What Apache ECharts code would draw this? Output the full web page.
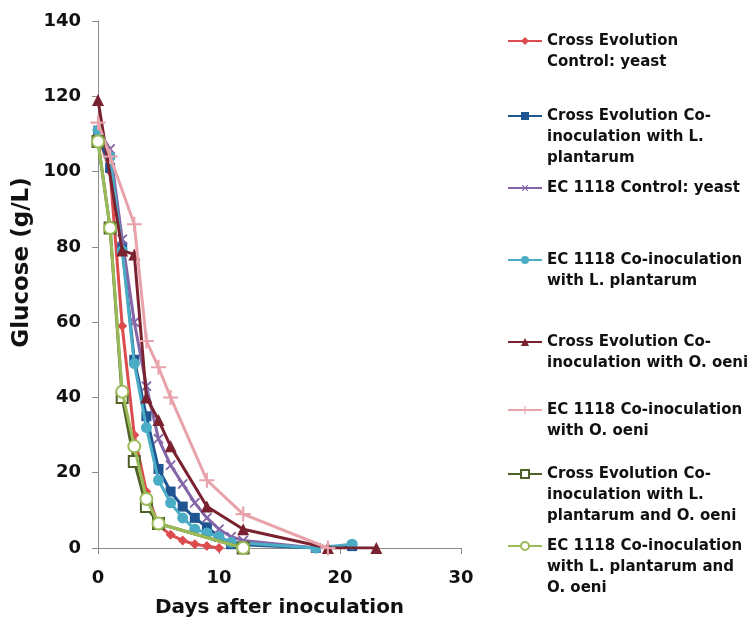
<!DOCTYPE html>
<html>
<head>
<meta charset="utf-8">
<script src="https://cdn.jsdelivr.net/npm/echarts@6/dist/echarts.min.js"></script>
<style>
html, body { margin: 0; padding: 0; background: #ffffff; }
#chart { width: 755px; height: 624px; }
</style>
</head>
<body>
<div id="chart"></div>
<script>
// Glucose consumption (g/L) over days after inoculation, eight fermentation treatments.
const seriesNames = [
  'Cross Evolution Control: yeast',
  'Cross Evolution Co-inoculation with L. plantarum',
  'EC 1118 Control: yeast',
  'EC 1118 Co-inoculation with L. plantarum',
  'Cross Evolution Co-inoculation with O. oeni',
  'EC 1118 Co-inoculation with O. oeni',
  'Cross Evolution Co-inoculation with L. plantarum and O. oeni',
  'EC 1118 Co-inoculation with L. plantarum and O. oeni'
];
// Legend text as wrapped on the right-hand side
const legendLines = [
  ['Cross Evolution', 'Control: yeast'],
  ['Cross Evolution Co-', 'inoculation with L.', 'plantarum'],
  ['EC 1118 Control: yeast'],
  ['EC 1118 Co-inoculation', 'with L. plantarum'],
  ['Cross Evolution Co-', 'inoculation with O. oeni'],
  ['EC 1118 Co-inoculation', 'with O. oeni'],
  ['Cross Evolution Co-', 'inoculation with L.', 'plantarum and O. oeni'],
  ['EC 1118 Co-inoculation', 'with L. plantarum and', 'O. oeni']
];

const daysCeControl = [0, 1, 2, 3, 4, 5, 6, 7, 8, 9, 10];
const glucoseCeControl = [110, 100, 59, 30, 15, 6, 3.5, 2, 1, 0.5, 0];

const daysCeLp = [0, 1, 2, 3, 4, 5, 6, 7, 8, 9, 10, 11, 18, 21];
const glucoseCeLp = [110, 101, 80, 50, 35, 21, 15, 11, 8, 5.5, 3, 1, 0, 0.5];

const daysEcControl = [0, 1, 2, 3, 4, 5, 6, 7, 8, 9, 10, 11, 12, 18];
const glucoseEcControl = [111, 106, 82, 60, 43, 29, 22, 17, 12, 8, 5, 3, 2, 0];

const daysEcLp = [0, 1, 2, 3, 4, 5, 6, 7, 8, 9, 10, 11, 18, 21];
const glucoseEcLp = [111, 104, 79, 49, 32, 18, 12, 8, 5, 4, 3, 1.5, 0, 1];

const daysCeOo = [0, 2, 3, 4, 5, 6, 9, 12, 19, 23];
const glucoseCeOo = [119, 79, 78, 40, 34, 27, 11, 5, 0, 0];

const daysEcOo = [0, 1, 3, 4, 5, 6, 9, 12, 19];
const glucoseEcOo = [113, 104, 86, 55, 48, 40, 18, 9, 0];

const daysCeLpOo = [0, 1, 2, 3, 4, 5, 12];
const glucoseCeLpOo = [108, 85, 40, 23, 11, 6.5, 0];

const daysEcLpOo = [0, 1, 2, 3, 4, 5, 12];
const glucoseEcLpOo = [108, 85, 41.5, 27, 13, 6.5, 0];

const xTicks = [0, 10, 20, 30];
const yTicks = [0, 20, 40, 60, 80, 100, 120, 140];

const pairs = (xs, ys) => xs.map((x, i) => [x, ys[i]]);

const plusPath = 'path://M4.3,0H5.7V4.3H10V5.7H5.7V10H4.3V5.7H0V4.3H4.3Z';

const styles = [
  { color: '#DC4B4E', symbol: 'diamond', size: 10 },
  { color: '#1F5590', symbol: 'rect', size: 10 },
  { color: '#8466A8', symbol: plusPath, size: 13, rotate: 45 },
  { color: '#4BACC6', symbol: 'circle', size: 11 },
  { color: '#7A2230', symbol: 'triangle', size: 12 },
  { color: '#E8A2AA', symbol: plusPath, size: 15 },
  { color: '#4F6228', symbol: 'emptyRect', size: 11 },
  { color: '#9BBB59', symbol: 'emptyCircle', size: 12 }
];

const seriesData = [
  pairs(daysCeControl, glucoseCeControl),
  pairs(daysCeLp, glucoseCeLp),
  pairs(daysEcControl, glucoseEcControl),
  pairs(daysEcLp, glucoseEcLp),
  pairs(daysCeOo, glucoseCeOo),
  pairs(daysEcOo, glucoseEcOo),
  pairs(daysCeLpOo, glucoseCeLpOo),
  pairs(daysEcLpOo, glucoseEcLpOo)
];

// y positions of the first text line of each legend entry
const legendFirstLineY = [41, 116, 188, 260, 342, 410, 474, 546];
const legendLineHeight = 21;

const fontFamily = '"DejaVu Sans", Verdana, sans-serif';

// Leading blank lines keep the legend symbol level with the first text line
const legends = seriesNames.map((name, i) => {
  const n = legendLines[i].length;
  return {
    data: [name],
    left: 507,
    top: legendFirstLineY[i] - (2 * n - 1) * legendLineHeight / 2,
    orient: 'vertical',
    itemWidth: 34,
    itemHeight: 10,
    padding: 0,
    selectedMode: false,
    formatter: () => '\n'.repeat(n - 1) + legendLines[i].join('\n'),
    textStyle: {
      fontFamily: fontFamily,
      fontWeight: 'bold',
      fontSize: 15,
      color: '#111',
      lineHeight: legendLineHeight
    }
  };
});

const series = seriesNames.map((name, i) => {
  const s = styles[i];
  const isEmpty = s.symbol.indexOf('empty') === 0;
  return {
    name: name,
    type: 'line',
    data: seriesData[i],
    symbol: s.symbol,
    symbolSize: s.size,
    symbolRotate: s.rotate || 0,
    showAllSymbol: true,
    lineStyle: { color: s.color, width: 3 },
    itemStyle: isEmpty
      ? { color: s.color, borderColor: s.color, borderWidth: 2.4 }
      : { color: s.color },
    z: 2 + i,
    emphasis: { disabled: true },
    animation: false
  };
});

const chart = echarts.init(document.getElementById('chart'), null, { renderer: 'canvas' });
chart.setOption({
  backgroundColor: '#ffffff',
  animation: false,
  textStyle: { fontFamily: fontFamily },
  grid: { left: 98, top: 21, width: 363, height: 527, containLabel: false },
  legend: legends,
  xAxis: {
    type: 'value',
    min: xTicks[0],
    max: xTicks[xTicks.length - 1],
    interval: 10,
    name: 'Days after inoculation',
    nameLocation: 'middle',
    nameGap: 50,
    nameTextStyle: { fontFamily: fontFamily, fontWeight: 'bold', fontSize: 20, color: '#111' },
    axisLine: { show: true, lineStyle: { color: '#8a8a8a', width: 1 } },
    axisTick: { show: true, length: 6, lineStyle: { color: '#8a8a8a' } },
    axisLabel: { fontFamily: fontFamily, fontWeight: 'bold', fontSize: 18, color: '#111', margin: 21 },
    splitLine: { show: false }
  },
  yAxis: {
    type: 'value',
    min: yTicks[0],
    max: yTicks[yTicks.length - 1],
    interval: 20,
    name: 'Glucose (g/L)',
    nameLocation: 'middle',
    nameGap: 64,
    nameRotate: 90,
    nameTextStyle: {
      fontFamily: fontFamily, fontWeight: 'bold', fontSize: 23, color: '#111',
      padding: [0, 0, 0, 44]
    },
    axisLine: { show: true, lineStyle: { color: '#8a8a8a', width: 1 } },
    axisTick: { show: true, length: 6, lineStyle: { color: '#8a8a8a' } },
    axisLabel: { fontFamily: fontFamily, fontWeight: 'bold', fontSize: 18, color: '#111', margin: 17 },
    splitLine: { show: false }
  },
  series: series
});
</script>
</body>
</html>
